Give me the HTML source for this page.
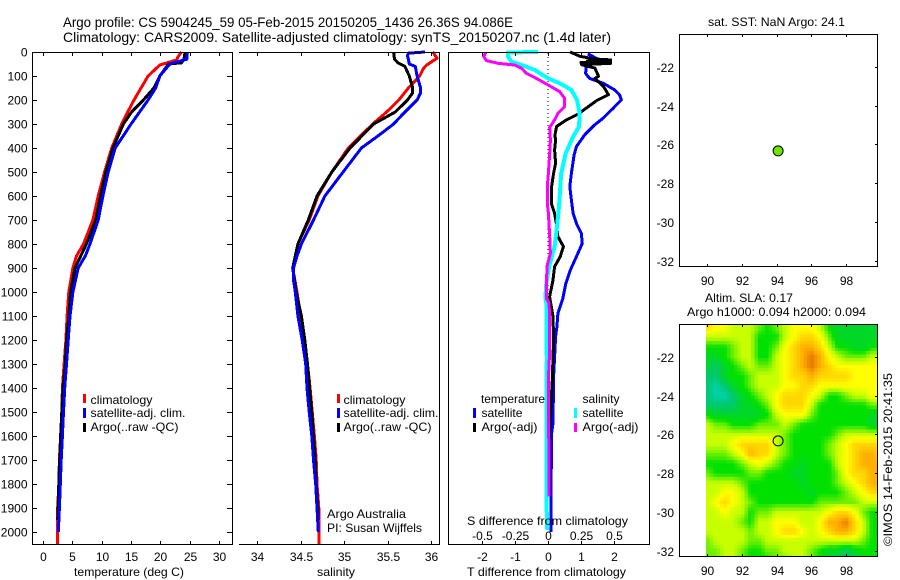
<!DOCTYPE html>
<html>
<head>
<meta charset="utf-8">
<title>Argo profile 5904245_59</title>
<style>
html,body{margin:0;padding:0;background:#fff;}
svg{display:block;}
text{font-family:"Liberation Sans",sans-serif;font-size:12px;fill:#000;}
.title{font-size:14px;}
</style>
</head>
<body>
<svg id="chart" xmlns="http://www.w3.org/2000/svg" width="900" height="580" viewBox="0 0 900 580">
  <rect x="0" y="0" width="900" height="580" fill="#fff"/>
  <text class="title" x="63" y="27" textLength="450" lengthAdjust="spacingAndGlyphs">Argo profile: CS 5904245_59 05-Feb-2015 20150205_1436 26.36S 94.086E</text>
  <text class="title" x="63" y="42" textLength="548" lengthAdjust="spacingAndGlyphs">Climatology: CARS2009. Satellite-adjusted climatology: synTS_20150207.nc (1.4d later)</text>

  <g id="heat"></g>
  <g id="series"></g>
  <g id="ticks"></g>

  <g fill="none" stroke="#000" stroke-width="1" shape-rendering="crispEdges">
    <rect x="32.5" y="52.5" width="200" height="492"/>
    <path d="M239 52.5H439.5V544.5H239"/>
    <rect x="448.5" y="52.5" width="201" height="492"/>
    <rect x="679.5" y="34.5" width="198" height="232"/>
    <rect x="679.5" y="324.5" width="198" height="232"/>
  </g>

  <g>
    <rect x="83" y="394" width="3" height="9" fill="#f00"/>
    <rect x="83" y="408" width="3" height="10" fill="#00f"/>
    <rect x="83" y="423" width="3" height="9" fill="#000"/>
    <text x="90.5" y="404" textLength="62" lengthAdjust="spacingAndGlyphs">climatology</text>
    <text x="90.5" y="417" textLength="95" lengthAdjust="spacingAndGlyphs">satellite-adj. clim.</text>
    <text x="90.5" y="431" textLength="88" lengthAdjust="spacingAndGlyphs">Argo(..raw -QC)</text>
  </g>
  <g>
    <rect x="337" y="394" width="3" height="9" fill="#f00"/>
    <rect x="337" y="408" width="3" height="10" fill="#00f"/>
    <rect x="337" y="423" width="3" height="9" fill="#000"/>
    <text x="343.5" y="404" textLength="62" lengthAdjust="spacingAndGlyphs">climatology</text>
    <text x="343.5" y="417" textLength="95" lengthAdjust="spacingAndGlyphs">satellite-adj. clim.</text>
    <text x="343.5" y="431" textLength="88" lengthAdjust="spacingAndGlyphs">Argo(..raw -QC)</text>
  </g>
  <text x="327" y="518" textLength="79" lengthAdjust="spacingAndGlyphs">Argo Australia</text>
  <text x="327" y="532" textLength="95" lengthAdjust="spacingAndGlyphs">PI: Susan Wijffels</text>

  <g>
    <text x="481" y="403" textLength="64" lengthAdjust="spacingAndGlyphs">temperature</text>
    <rect x="473" y="408" width="3" height="10" fill="#00f"/>
    <text x="481.5" y="417" textLength="41" lengthAdjust="spacingAndGlyphs">satellite</text>
    <rect x="473" y="423" width="3" height="9" fill="#000"/>
    <text x="481.5" y="431" textLength="56" lengthAdjust="spacingAndGlyphs">Argo(-adj)</text>
    <text x="582.5" y="403" textLength="37" lengthAdjust="spacingAndGlyphs">salinity</text>
    <rect x="574" y="408" width="3" height="10" fill="#0ff"/>
    <text x="582.5" y="417" textLength="41" lengthAdjust="spacingAndGlyphs">satellite</text>
    <rect x="574" y="423" width="3" height="9" fill="#f0f"/>
    <text x="582.5" y="431" textLength="56" lengthAdjust="spacingAndGlyphs">Argo(-adj)</text>
  </g>

  <text x="467" y="525" textLength="161" lengthAdjust="spacingAndGlyphs">S difference from climatology</text>
  <text x="74" y="576" textLength="110" lengthAdjust="spacingAndGlyphs">temperature (deg C)</text>
  <text x="317" y="576" textLength="38" lengthAdjust="spacingAndGlyphs">salinity</text>
  <text x="467" y="576" textLength="159" lengthAdjust="spacingAndGlyphs">T difference from climatology</text>

  <text x="708" y="26" textLength="137" lengthAdjust="spacingAndGlyphs">sat. SST: NaN Argo: 24.1</text>
  <text x="705" y="302" textLength="88" lengthAdjust="spacingAndGlyphs">Altim. SLA: 0.17</text>
  <text x="687" y="316" textLength="179" lengthAdjust="spacingAndGlyphs">Argo h1000: 0.094 h2000: 0.094</text>
  <text transform="translate(892,546) rotate(-90)" textLength="173" lengthAdjust="spacingAndGlyphs">©IMOS 14-Feb-2015 20:41:35</text>

  <circle id="sstDot" r="5" fill="#6ee600" stroke="#000" stroke-width="1"/>
  <circle id="slaDot" r="5" fill="none" stroke="#000" stroke-width="1"/>
</svg>

<script>
/* ---- profile data (depth in m, temperature in deg C, salinity in psu) ---- */
const tempClimDepth = [0,20,33,54,100,200,280,300,400,500,600,700,800,850,900,1000,1100,1200,1300,1400,1500,1600,1700,1800,1900,2000,2050];
const tempClim = [23.6,23.0,22.8,19.9,17.9,15.5,13.8,13.4,11.7,10.5,9.4,8.5,6.9,5.7,5.1,4.4,4.1,3.9,3.6,3.3,3.2,3.0,2.8,2.7,2.5,2.5,2.45];
const tempSatDepth = [0,30,50,100,150,200,300,400,500,600,700,800,850,900,1000,1100,1200,1300,1400,1500,1600,1700,1800,1900,2000];
const tempSat = [24.6,24.5,21.6,19.9,19.2,17.9,15.0,12.3,11.1,10.2,9.4,8.0,7.2,6.0,5.1,4.6,4.3,4.0,3.7,3.5,3.3,3.1,2.95,2.8,2.6];
const tempArgoDepth = [0,30,45,50,100,150,200,250,300,400,500,600,700,800,900,1000,1100,1200,1300,1400,1500,1600,1700,1800,1900,1950];
const tempArgo = [24.2,24.0,23.6,21.4,19.9,18.9,17.1,15.1,13.7,11.9,10.7,9.8,9.0,7.4,5.45,4.7,4.4,4.0,3.8,3.4,3.2,3.0,2.85,2.7,2.55,2.5];

const salClimDepth = [0,26,54,70,100,150,200,250,300,400,500,600,700,800,900,1000,1100,1200,1300,1400,1500,1600,1700,1800,1900,2000,2050];
const salClim = [36.02,36.07,35.95,35.91,35.87,35.74,35.63,35.49,35.33,35.05,34.86,34.70,34.60,34.47,34.41,34.46,34.50,34.54,34.58,34.61,34.635,34.66,34.68,34.69,34.71,34.71,34.71];
const salSatDepth = [0,5,15,30,50,60,100,150,170,200,250,300,350,400,500,600,700,800,850,900,950,1000,1100,1200,1300,1400,1500,1600,1700,1800,1900,2000];
const salSat = [35.93,35.74,35.73,35.74,35.75,35.82,35.84,35.88,35.88,35.84,35.70,35.57,35.39,35.20,34.99,34.78,34.65,34.51,34.46,34.42,34.42,34.44,34.47,34.52,34.56,34.575,34.60,34.63,34.65,34.675,34.69,34.705];
const salArgoDepth = [0,30,45,60,100,150,170,200,250,300,400,500,600,700,800,900,1000,1100,1200,1300,1400,1500,1600,1700,1800,1900,1950];
const salArgo = [35.57,35.58,35.62,35.70,35.75,35.79,35.79,35.73,35.59,35.34,35.07,34.86,34.69,34.59,34.47,34.41,34.45,34.51,34.55,34.58,34.605,34.63,34.65,34.67,34.68,34.70,34.70];

/* ---- differences from climatology ---- */
const dTSatDepth = [8,26,40,61,89,110,130,158,179,200,235,276,304,346,394,429,505,561,617,672,714,756,797,853,908,964,1026,1047,1089,1145,1186,1269,1353,1547,1589,1853,1999];
const dTSat = [1.21,1.46,1.26,1.16,1.14,1.26,1.67,2.02,2.17,2.22,1.97,1.67,1.41,1.11,.86,.79,.71,.66,.71,.76,.86,1.01,1.04,.86,.68,.54,.45,.40,.30,.27,.23,.20,.17,.15,.11,.09,.09];
const dTArgoDepth = [0,18,29,33,37,40,44,47,53,67,101,111,143,178,203,233,258,282,310,347,367,408,464,505,561,631,672,714,769,811,853,894,950,1020,1061,1103,1200,1269,1367,1575,1840];
const dTArgo = [.67,.97,1.42,1.9,1.2,1.9,1.0,1.9,1.02,1.42,1.53,1.42,1.68,1.83,1.47,1.17,.92,.57,.26,.21,.23,.20,.23,.17,.11,.10,.20,.25,.30,.47,.37,.20,.15,.05,.10,.15,.17,.15,.13,.05,.05];
const dSSatDepth = [0,2,19,40,54,75,110,130,158,200,256,311,353,422,505,644,728,811,894,964,1026,1047,1242,1269,1353,1853,1992];
const dSSat = [-.076,-.303,-.303,-.278,-.20,-.10,0,.088,.177,.22,.24,.235,.19,.134,.10,.083,.068,.05,.008,-.013,-.02,-.013,-.013,-.008,-.013,-.013,-.005];
const dSArgoDepth = [3,19,36,47,54,68,89,110,137,165,193,228,256,283,314,367,422,505,561,631,672,769,839,894,1026,1047,1131,1242,1360,1853];
const dSArgo = [-.472,-.487,-.467,-.379,-.253,-.20,-.164,-.088,0,.088,.126,.126,.076,.05,.013,.018,.013,.003,-.005,-.005,.003,.013,.018,-.008,-.013,.008,.013,.013,.003,.008];

/* ---- tick labels ---- */
const depthTicks = [0,100,200,300,400,500,600,700,800,900,1000,1100,1200,1300,1400,1500,1600,1700,1800,1900,2000];
const tempTicks = [0,5,10,15,20,25,30];
const salTicks = [34,34.5,35,35.5,36];
const dTTicks = [-2,-1,0,1,2];
const dSTicks = [-0.5,-0.25,0,0.25,0.5];
const lonTicks = [90,92,94,96,98];
const latTicks = [-22,-24,-26,-28,-30,-32];
const argoLon = 94.086;
const argoLat = -26.36;

/* ---- SLA colour level on a half-degree grid: lon 90..100, lat -20.5..-32.5 ---- */
const slaLons = [90,90.5,91,91.5,92,92.5,93,93.5,94,94.5,95,95.5,96,96.5,97,97.5,98,98.5,99,99.5,100];
const slaLats = [-20.5,-21,-21.5,-22,-22.5,-23,-23.5,-24,-24.5,-25,-25.5,-26,-26.5,-27,-27.5,-28,-28.5,-29,-29.5,-30,-30.5,-31,-31.5,-32,-32.5];
const slaLevels = [
 [7,6,6,5,5,5,4,3,4,5,6,6,6,5,3,2,2,2,2,2,2],
 [5,5,5,5,5,5,3,3,3,5,6,7,7,6,4,2,2,2,2,2,3],
 [3,3,3,4,5,5,3,3,4,6,7,8,8,7,5,3,3,2,2,3,3],
 [2,2,3,4,5,5,3,3,5,6,7,8,9,8,6,5,4,4,4,5,5],
 [2,1,2,3,4,5,4,4,5,6,7,8,9,8,7,6,6,6,6,6,6],
 [1,1,2,3,3,4,5,5,5,6,7,7,8,7,7,7,7,6,6,6,6],
 [1,0,1,2,3,4,5,5,5,6,6,7,7,6,6,6,6,6,6,6,6],
 [1,0,0,1,2,3,4,5,6,7,7,7,6,5,3,3,4,5,5,6,6],
 [1,1,1,1,2,2,3,4,6,7,7,7,5,3,3,3,3,3,3,4,4],
 [3,2,2,2,2,2,2,3,5,6,6,6,4,3,3,3,3,3,3,2,2],
 [5,4,4,3,3,3,4,4,4,5,4,3,3,3,3,3,3,3,3,2,2],
 [5,5,5,5,5,5,5,5,5,4,3,3,3,3,3,4,5,5,5,5,5],
 [5,5,5,6,7,7,7,7,5,4,3,3,3,3,4,5,6,7,7,7,7],
 [4,4,4,5,6,8,7,7,5,4,3,3,3,3,4,5,6,7,8,8,7],
 [3,3,3,3,4,5,6,5,4,3,3,2,3,3,3,5,6,7,8,8,8],
 [4,3,3,3,3,4,4,3,3,3,2,2,3,3,3,4,6,7,7,8,8],
 [5,5,5,5,4,3,3,3,3,3,3,2,3,3,3,4,5,6,7,8,8],
 [5,5,6,6,5,3,3,3,3,3,3,3,2,3,3,3,4,5,6,7,7],
 [5,6,7,6,5,4,3,3,3,3,3,3,3,4,4,4,4,4,5,5,5],
 [5,5,6,5,5,3,4,4,5,5,5,5,5,5,6,7,7,6,4,3,3],
 [5,5,5,5,4,3,5,5,6,6,6,5,5,6,8,8,9,7,5,3,3],
 [5,5,5,5,5,4,5,5,6,7,7,6,5,6,7,8,8,7,5,3,3],
 [4,5,5,5,5,4,4,5,5,5,5,5,5,5,5,5,5,5,4,3,3],
 [4,4,5,5,4,3,3,4,4,5,5,5,4,3,2,2,1,2,3,3,3],
 [4,4,5,5,4,3,3,3,4,4,5,5,4,3,2,2,1,2,3,3,3]
];
const slaPalette = ["#00d2aa","#00c86e","#00d728","#00e100","#6ef000","#c8ff00","#ffff00","#ffd700","#ffaf00","#e67800"];

/* ---- axis functions ---- */
const NS = "http://www.w3.org/2000/svg";
function yDepth(d){ return 52 + 0.24 * d; }
function xTemp(t){ return 43 + 5.87 * t; }
function xSal(s){ return 257 + 87 * (s - 34); }
function xDT(t){ return 548 + 33 * t; }
function xDS(s){ return 548 + 132 * s; }
function xLon(l){ return 707 + 17.4 * (l - 90); }
function yLat1(l){ return 66.7 + 19.43 * (-22 - l); }
function yLat2(l){ return 356.7 + 19.43 * (-22 - l); }

function hexRgb(h){ return [1,3,5].map(function(i){ return parseInt(h.substr(i,2),16); }); }
function levelColor(v){
  const c = Math.max(0, Math.min(slaPalette.length - 1, v));
  const i = Math.min(slaPalette.length - 2, Math.floor(c));
  const f = c - i;
  const a = hexRgb(slaPalette[i]);
  const b = hexRgb(slaPalette[i + 1]);
  return "rgb(" + a.map(function(q, k){ return Math.round(q + (b[k] - q) * f); }).join(",") + ")";
}

/* ---- heatmap: 0.1 degree blocks sampled bilinearly from the grid ---- */
const heat = document.getElementById("heat");
function sampleSla(lon, lat){
  const fx = Math.max(0, Math.min(slaLons.length - 1.001, (lon - slaLons[0]) / (slaLons[1] - slaLons[0])));
  const fy = Math.max(0, Math.min(slaLats.length - 1.001, (lat - slaLats[0]) / (slaLats[1] - slaLats[0])));
  const ix = Math.floor(fx), iy = Math.floor(fy);
  const tx = fx - ix, ty = fy - iy;
  const top = slaLevels[iy][ix] * (1 - tx) + slaLevels[iy][ix + 1] * tx;
  const bot = slaLevels[iy + 1][ix] * (1 - tx) + slaLevels[iy + 1][ix + 1] * tx;
  return top * (1 - ty) + bot * ty;
}
const cellW = 3.48, cellH = 3.4;
for (let py = 324; py < 556; py += cellH) {
  for (let px = 706; px < 877; px += cellW) {
    const lon = 90 + (px + cellW / 2 - 707) / 17.4;
    const lat = -22 - (py + cellH / 2 - 356.7) / 19.43;
    const cell = document.createElementNS(NS, "rect");
    cell.setAttribute("x", px.toFixed(2));
    cell.setAttribute("y", py.toFixed(2));
    cell.setAttribute("width", Math.min(cellW + 0.5, 877 - px).toFixed(2));
    cell.setAttribute("height", Math.min(cellH + 0.5, 556 - py).toFixed(2));
    cell.setAttribute("fill", levelColor(sampleSla(lon, lat)));
    cell.setAttribute("shape-rendering", "crispEdges");
    
    
    heat.appendChild(cell);
  }
}

/* ---- series ---- */
const seriesGroup = document.getElementById("series");
function profileLine(name, depths, values, xFn, color, width){
  const line = document.createElementNS(NS, "polyline");
  line.setAttribute("points", depths.map(function(d, i){
    return xFn(values[i]).toFixed(1) + "," + yDepth(d).toFixed(1);
  }).join(" "));
  line.setAttribute("fill", "none");
  line.setAttribute("stroke", color);
  line.setAttribute("stroke-width", width);
  line.setAttribute("stroke-linejoin", "round");
  line.setAttribute("shape-rendering", "crispEdges");
  
  
  seriesGroup.appendChild(line);
}
const zeroLine = document.createElementNS(NS, "line");
zeroLine.setAttribute("x1", xDT(0));
zeroLine.setAttribute("x2", xDT(0));
zeroLine.setAttribute("y1", 53);
zeroLine.setAttribute("y2", 352);
zeroLine.setAttribute("stroke", "#000");
zeroLine.setAttribute("stroke-width", 1);
zeroLine.setAttribute("stroke-dasharray", "1 3");


seriesGroup.appendChild(zeroLine);

profileLine("temperature-climatology-line", tempClimDepth, tempClim, xTemp, "#f00", 3);
profileLine("temperature-argo-line", tempArgoDepth, tempArgo, xTemp, "#000", 3);
profileLine("temperature-satellite-line", tempSatDepth, tempSat, xTemp, "#00f", 3);
profileLine("salinity-climatology-line", salClimDepth, salClim, xSal, "#f00", 3);
profileLine("salinity-argo-line", salArgoDepth, salArgo, xSal, "#000", 3);
profileLine("salinity-satellite-line", salSatDepth, salSat, xSal, "#00f", 3);
profileLine("t-diff-satellite-line", dTSatDepth, dTSat, xDT, "#00f", 3);
profileLine("t-diff-argo-line", dTArgoDepth, dTArgo, xDT, "#000", 3);
profileLine("s-diff-satellite-line", dSSatDepth, dSSat, xDS, "#0ff", 4);
profileLine("s-diff-argo-line", dSArgoDepth, dSArgo, xDS, "#f0f", 3);

/* ---- ticks and tick labels ---- */
const tickGroup = document.getElementById("ticks");
function addTick(x1, y1, x2, y2){
  const t = document.createElementNS(NS, "line");
  t.setAttribute("x1", x1);
  t.setAttribute("y1", y1);
  t.setAttribute("x2", x2);
  t.setAttribute("y2", y2);
  t.setAttribute("stroke", "#000");
  t.setAttribute("stroke-width", 1);
  t.setAttribute("shape-rendering", "crispEdges");
  
  
  tickGroup.appendChild(t);
}
function addLabel(x, y, str, anchor){
  const t = document.createElementNS(NS, "text");
  t.setAttribute("x", x);
  t.setAttribute("y", y);
  t.setAttribute("text-anchor", anchor);
  t.textContent = str;
  
  
  tickGroup.appendChild(t);
}
depthTicks.forEach(function(d){
  const y = Math.round(yDepth(d)) + 0.5;
  addTick(32, y, 37, y);
  addTick(227, y, 232, y);
  addLabel(27.5, y + 4, String(d), "end");
});
tempTicks.forEach(function(t){
  const x = Math.round(xTemp(t)) + 0.5;
  addTick(x, 52, x, 56);
  addTick(x, 541, x, 545);
  addLabel(x, 561, String(t), "middle");
});
salTicks.forEach(function(s){
  const x = Math.round(xSal(s)) + 0.5;
  addTick(x, 52, x, 56);
  addTick(x, 541, x, 545);
  addLabel(x, 561, String(s), "middle");
});
dTTicks.forEach(function(t){
  const x = Math.round(xDT(t)) + 0.5;
  addTick(x, 52, x, 56);
  addTick(x, 541, x, 545);
  addLabel(x, 561, String(t), "middle");
});
dSTicks.forEach(function(s){
  const x = Math.round(xDS(s)) + 0.5;
  addLabel(x, 540, String(s), "middle");
});
lonTicks.forEach(function(l){
  const x = Math.round(xLon(l)) + 0.5;
  addTick(x, 34, x, 37);
  addTick(x, 264, x, 267);
  addLabel(x, 285, String(l), "middle");
  addTick(x, 324, x, 327);
  addTick(x, 554, x, 557);
  addLabel(x, 575, String(l), "middle");
});
latTicks.forEach(function(l){
  const y1 = Math.round(yLat1(l)) + 0.5;
  const y2 = Math.round(yLat2(l)) + 0.5;
  addTick(875, y1, 878, y1);
  addTick(875, y2, 878, y2);
  addLabel(674, y1 + 4.5, String(l), "end");
  addLabel(674, y2 + 4.5, String(l), "end");
});

/* ---- float position ---- */
const sstDot = document.getElementById("sstDot");
sstDot.setAttribute("cx", xLon(argoLon));
sstDot.setAttribute("cy", yLat1(argoLat) - 0.5);
const slaDot = document.getElementById("slaDot");
slaDot.setAttribute("cx", xLon(argoLon));
slaDot.setAttribute("cy", yLat2(argoLat) - 0.5);
</script>
</body>
</html>
